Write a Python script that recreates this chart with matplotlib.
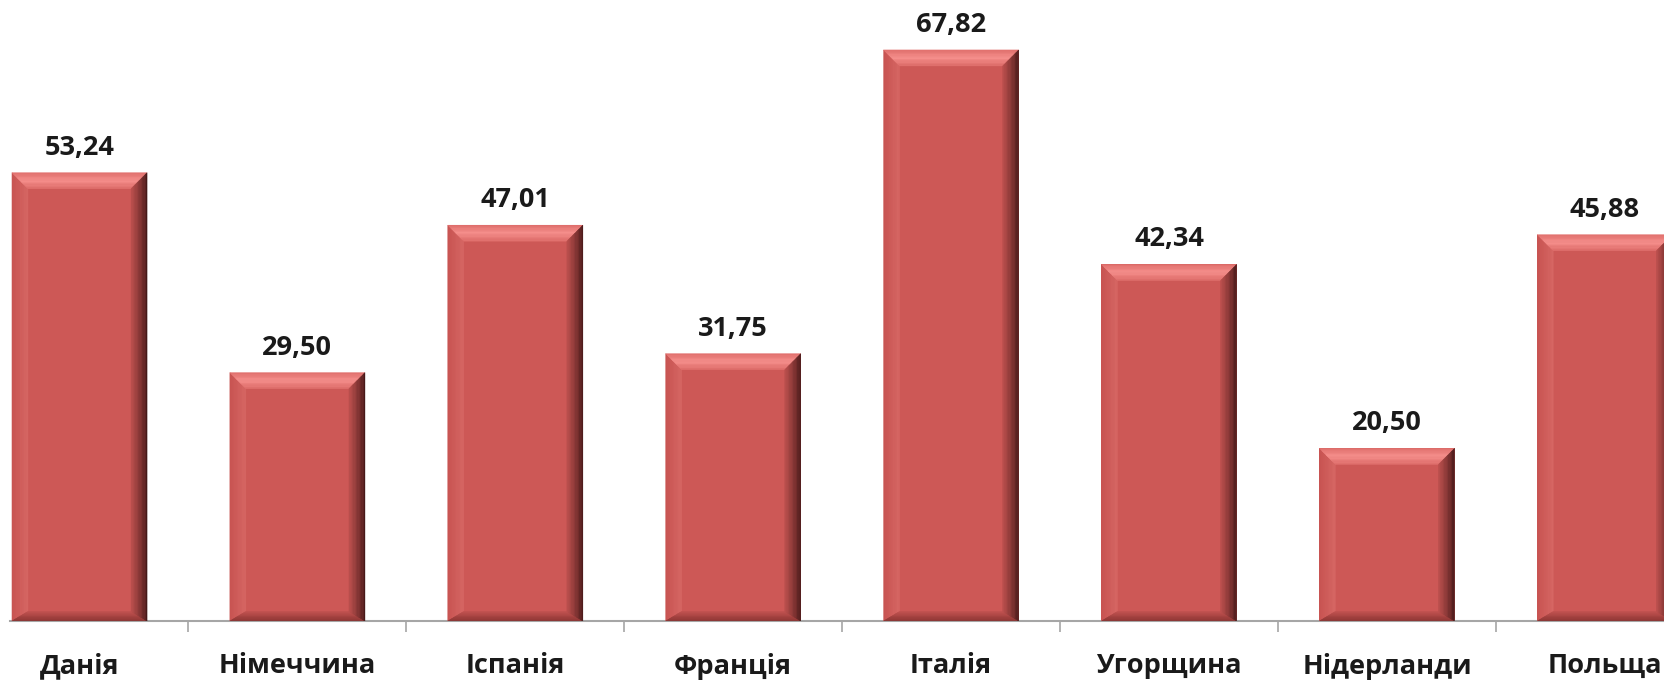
import numpy as np
import matplotlib
matplotlib.use('Agg')
import matplotlib.pyplot as plt
from matplotlib.patches import Polygon
from matplotlib.transforms import IdentityTransform

countries = ['Данія', 'Німеччина', 'Іспанія', 'Франція', 'Італія', 'Угорщина', 'Нідерланди', 'Польща']
values = [53.24, 29.50, 47.01, 31.75, 67.82, 42.34, 20.50, 45.88]

plt.rcParams['font.family'] = ['Open Sans', 'DejaVu Sans']

face = '#CD5856'


def mix(c1, c2, t):
    c1 = np.array(matplotlib.colors.to_rgb(c1))
    c2 = np.array(matplotlib.colors.to_rgb(c2))
    return tuple(c1 * (1 - t) + c2 * t)


def add_poly(ax, pts, color):
    p = Polygon(pts, closed=True, facecolor=color, edgecolor=color, linewidth=0.3,
                transform=IdentityTransform(), zorder=3)
    ax.add_artist(p)


# bevelled bar look, done in pixel space on top of each bar
def draw_bevel(ax, bar, b=16, steps=12):
    (x0, y0), (x1, y1) = ax.transData.transform([(bar.get_x(), 0),
                                                 (bar.get_x() + bar.get_width(), bar.get_height())])
    bb = min(b, (y1 - y0) / 2)
    bl = bb * 0.6  # bottom bevel height
    # left face
    for k in range(steps):
        t0 = k / steps
        t1 = (k + 1) / steps
        add_poly(ax, [(x0 + bb * t0, y0 + bl * t0), (x0 + bb * t1, y0 + bl * t1),
                      (x0 + bb * t1, y1 - bb * t1), (x0 + bb * t0, y1 - bb * t0)],
                 mix('#C85452', '#D76865', t0))
    # bottom face
    for k in range(steps):
        t0 = k / steps
        t1 = (k + 1) / steps
        add_poly(ax, [(x0 + bb * t0, y0 + bl * t0), (x1 - bb * t0, y0 + bl * t0),
                      (x1 - bb * t1, y0 + bl * t1), (x0 + bb * t1, y0 + bl * t1)],
                 mix('#8A3432', '#C45452', t0))
    # top face with light gradient
    for k in range(steps):
        t0 = k / steps
        t1 = (k + 1) / steps
        add_poly(ax, [(x0 + bb * t0, y1 - bb * t0), (x1 - bb * t0, y1 - bb * t0),
                      (x1 - bb * t1, y1 - bb * t1), (x0 + bb * t1, y1 - bb * t1)],
                 mix('#DD6B68', '#F7918E', 1 - abs(t0 - 0.45) * 1.8))
    # right face, dark towards the edge
    for k in range(steps):
        t0 = k / steps
        t1 = (k + 1) / steps
        add_poly(ax, [(x1 - bb * t0, y1 - bb * t0), (x1 - bb * t1, y1 - bb * t1),
                      (x1 - bb * t1, y0 + bl * t1), (x1 - bb * t0, y0 + bl * t0)],
                 mix('#451818', '#C05250', t0 ** 0.8))


fig = plt.figure(figsize=(16.65, 6.82), dpi=100)
ax = fig.add_axes([10 / 1665, 61 / 682, 1655 / 1665, 621 / 682])

x = np.arange(len(countries))
bars = ax.bar(x, values, width=0.62, color=face, zorder=2)

ax.set_xlim(-0.319, 7.276)
ax.set_ylim(0, 73.75)

for bar in bars:
    draw_bevel(ax, bar)

for xi, v in zip(x, values):
    ax.annotate(f'{v:.2f}'.replace('.', ','), (xi, v), xytext=(0, 13),
                textcoords='offset points', ha='center', va='baseline',
                fontsize=19.5, fontweight='bold', color='#1a1a1a')

ax.set_xticks(x)
ax.set_xticklabels(countries, fontsize=19.5, fontweight='bold', color='#1a1a1a')
ax.tick_params(axis='x', which='major', length=0, pad=23)
ax.set_xticks(x[:-1] + 0.5, minor=True)
ax.tick_params(axis='x', which='minor', length=8, width=1.2, color='#A6A6A6', direction='out')

ax.set_yticks([])
for s in ['top', 'right', 'left']:
    ax.spines[s].set_visible(False)
ax.spines['bottom'].set_color('#A6A6A6')
ax.spines['bottom'].set_linewidth(1.5)
ax.patch.set_alpha(0)

fig.savefig('out.png', dpi=100)
